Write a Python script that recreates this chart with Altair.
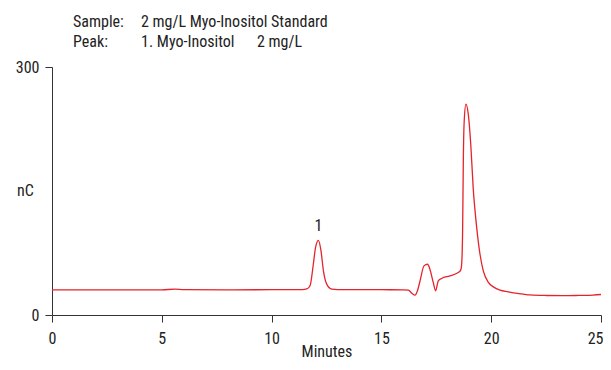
import altair as alt
import pandas as pd

# Chromatogram trace (minutes, nC)
minutes = [0, 2, 5, 5.6, 6, 8, 10, 11.4, 11.6, 11.75, 11.9, 12.0, 12.13, 12.25, 12.36,
           12.51, 12.74, 13.0, 14, 15, 16.0, 16.23, 16.4, 16.53, 16.65, 16.76, 16.94,
           17.1, 17.21, 17.36, 17.47, 17.59, 17.74, 18.12, 18.55, 18.62, 18.66, 18.70,
           18.73, 18.77, 18.85, 18.96, 19.07, 19.18, 19.34, 19.49, 19.64, 19.87, 20.1,
           20.4, 20.78, 21.0, 21.4, 21.77, 22.5, 23.27, 24.0, 24.64, 25]
signal = [30.3, 30.4, 30.5, 31.2, 30.6, 30.5, 30.6, 30.8, 31.5, 35.3, 61.4, 81.5, 90.3,
          77.5, 53.4, 37.3, 31.3, 30.8, 30.7, 30.6, 30.5, 30.0, 26.0, 24.1, 30.0, 41.3,
          59.4, 61.4, 55.4, 39.4, 29.3, 41.3, 44.2, 47.3, 52.2, 55.0, 63.5, 105.7, 185.9,
          234.0, 255.0, 242.0, 206.0, 153.8, 105.7, 73.5, 53.4, 39.4, 34.0, 30.0, 28.0,
          26.8, 25.5, 24.3, 23.6, 23.4, 23.7, 24.1, 24.8]

peak_labels = ["1"]
peak_times = [12.13]
peak_heights = [90.3]

x_ticks = [0, 5, 10, 15, 20, 25]
y_ticks = [0, 300]

header_keys = ["Sample:", "Peak:"]
header_vals = ["2 mg/L Myo-Inositol Standard", "1. Myo-Inositol"]
header_extra = "2 mg/L"

FONT = "Roboto Condensed, Roboto, sans-serif"
RED = "#e5232b"
FS = 16

df = pd.DataFrame({"t": minutes, "v": signal})
peaks = pd.DataFrame({"t": peak_times, "v": peak_heights, "lab": peak_labels})

x = alt.X("t:Q", scale=alt.Scale(domain=[0, 25], nice=False, zero=False),
          axis=alt.Axis(title="Minutes", values=x_ticks, grid=False,
                        tickSize=7, labelPadding=8, titlePadding=-3,
                        labelAlign=alt.expr("datum.value == 25 ? 'right' : 'center'"),
                        labelOffset=alt.expr("datum.value == 25 ? 2 : 0"),
                        titleFontWeight="normal"))
y = alt.Y("v:Q", scale=alt.Scale(domain=[0, 300], nice=False),
          axis=alt.Axis(title="nC", values=y_ticks, grid=False, tickSize=7,
                        labelPadding=6, titleAngle=0, titleX=-27, titleY=123,
                        titleAlign="center", titleBaseline="middle",
                        titleFontWeight="normal"))

line = alt.Chart(df).mark_line(color=RED, strokeWidth=1.3, interpolate="monotone").encode(x=x, y=y)

plab = alt.Chart(peaks).mark_text(font=FONT, fontSize=FS, color="#222", dy=-14,
                                  baseline="middle").encode(x="t:Q", y="v:Q", text="lab:N")

def htext(txt, px, py):
    return alt.Chart(pd.DataFrame({"s": [txt]})).mark_text(
        font=FONT, fontSize=FS, color="#222", align="left", baseline="alphabetic"
    ).encode(x=alt.value(px), y=alt.value(py), text="s:N")

headers = [
    htext(header_keys[0], 21, -40),
    htext(header_vals[0], 89, -40),
    htext(header_keys[1], 21, -20),
    htext(header_vals[1], 89, -20),
    htext(header_extra, 205, -20),
]

chart = alt.layer(line, plab, *headers).properties(
    width=549, height=248,
    autosize=alt.AutoSizeParams(type="none"),
    padding={"left": 44, "top": 59, "right": 2, "bottom": 47},
).configure_view(stroke=None).configure_axis(
    domainColor="#333", tickColor="#333", labelColor="#222", titleColor="#222",
    labelFont=FONT, titleFont=FONT, labelFontSize=FS, titleFontSize=FS,
    domainWidth=1, tickWidth=1,
)

chart.save("out.html", embed_options={"renderer": "svg", "actions": False})
